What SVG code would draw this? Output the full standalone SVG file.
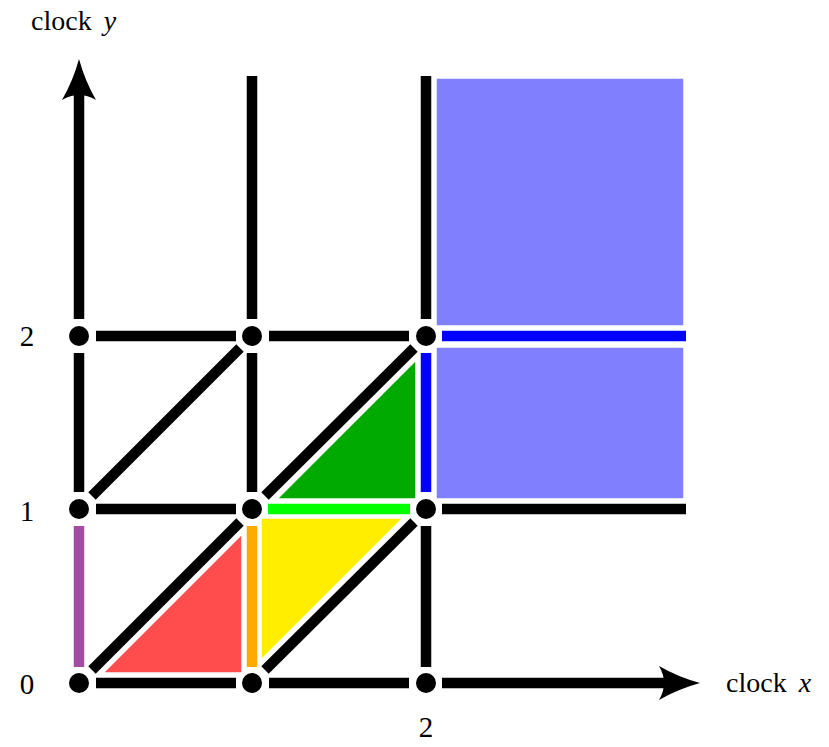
<svg xmlns="http://www.w3.org/2000/svg" width="829" height="747" viewBox="0 0 829 747">
<style>
.e{stroke-width:10.5;fill:none;stroke-linecap:butt}
.k{stroke:#000}
.dot{fill:#000}
.reg{stroke:#fff;stroke-width:1.5;stroke-linejoin:round}
.lbl{font-family:"Liberation Serif","DejaVu Serif",serif;fill:#000}
.it{font-style:italic}
.num{font-size:29px}
</style>
<defs>
<path id="ahx" d="M0,0 Q-22,-6 -41,-17 Q-31,0 -41,17 Q-22,6 0,0 Z" fill="#000"/>
</defs>
<rect width="829" height="747" fill="#fff"/>
<g id="regions">
<rect id="region-top" class="reg" x="436" y="78" width="248" height="248" fill="#8080ff"/>
<rect id="region-mid" class="reg" x="436" y="347" width="248" height="152" fill="#8080ff"/>
<polygon id="tri-green" class="reg" points="277,499 416,499 416,360" fill="#00aa00"/>
<polygon id="tri-yellow" class="reg" points="261,518 403,518 261,660" fill="#ffee00"/>
<polygon id="tri-red" class="reg" points="103,673 242,534 242,673" fill="#ff4d4d"/>
</g>
<g id="connectors">
<line class="e k" x1="96" y1="336" x2="236" y2="336"/>
<line class="e k" x1="269" y1="336" x2="409" y2="336"/>
<line class="e" stroke="#0000ff" x1="442" y1="336" x2="686" y2="336"/>
<line class="e k" x1="96" y1="509" x2="236" y2="509"/>
<line class="e" stroke="#00ff00" x1="268" y1="509" x2="410" y2="509"/>
<line class="e k" x1="442" y1="509" x2="686" y2="509"/>
<line class="e k" x1="96" y1="683" x2="236" y2="683"/>
<line class="e k" x1="269" y1="683" x2="409" y2="683"/>
<line class="e k" x1="442" y1="683" x2="675" y2="683"/>
<use href="#ahx" x="700" y="683"/>
<line class="e" stroke="#a24da2" x1="79" y1="667" x2="79" y2="526"/>
<line class="e k" x1="79" y1="492" x2="79" y2="353"/>
<line class="e k" x1="79" y1="319" x2="79" y2="84"/>
<use href="#ahx" transform="translate(79,59) rotate(-90)"/>
<line class="e" stroke="#ffaa00" x1="252" y1="667" x2="252" y2="526"/>
<line class="e k" x1="252" y1="492" x2="252" y2="353"/>
<line class="e k" x1="252" y1="319" x2="252" y2="76"/>
<line class="e k" x1="426" y1="667" x2="426" y2="526"/>
<line class="e" stroke="#0000ff" x1="426" y1="492" x2="426" y2="353"/>
<line class="e k" x1="426" y1="319" x2="426" y2="76"/>
<line class="e k" x1="92" y1="670" x2="240" y2="522"/>
<line class="e k" x1="265" y1="670" x2="414" y2="522"/>
<line class="e k" x1="92" y1="496" x2="240" y2="348"/>
<line class="e k" x1="265" y1="496" x2="414" y2="348"/>
</g>
<g id="nodes">
<circle id="n00" class="dot" cx="79" cy="683" r="10"/>
<circle id="n10" class="dot" cx="252" cy="683" r="10"/>
<circle id="n20" class="dot" cx="426" cy="683" r="10"/>
<circle id="n01" class="dot" cx="79" cy="509" r="10"/>
<circle id="n11" class="dot" cx="252" cy="509" r="10"/>
<circle id="n21" class="dot" cx="426" cy="509" r="10"/>
<circle id="n02" class="dot" cx="79" cy="336" r="10"/>
<circle id="n12" class="dot" cx="252" cy="336" r="10"/>
<circle id="n22" class="dot" cx="426" cy="336" r="10"/>
</g>
<g id="labels">
<text class="lbl" x="31" y="30" font-size="28">clock <tspan class="it" dx="5">y</tspan></text>
<text class="lbl" x="726" y="692" font-size="28">clock <tspan class="it" dx="5">x</tspan></text>
<text class="lbl num" x="27" y="346" text-anchor="middle">2</text>
<text class="lbl num" x="27" y="521" text-anchor="middle">1</text>
<text class="lbl num" x="27" y="694" text-anchor="middle">0</text>
<text class="lbl num" x="426" y="737" text-anchor="middle">2</text>
</g>
</svg>
